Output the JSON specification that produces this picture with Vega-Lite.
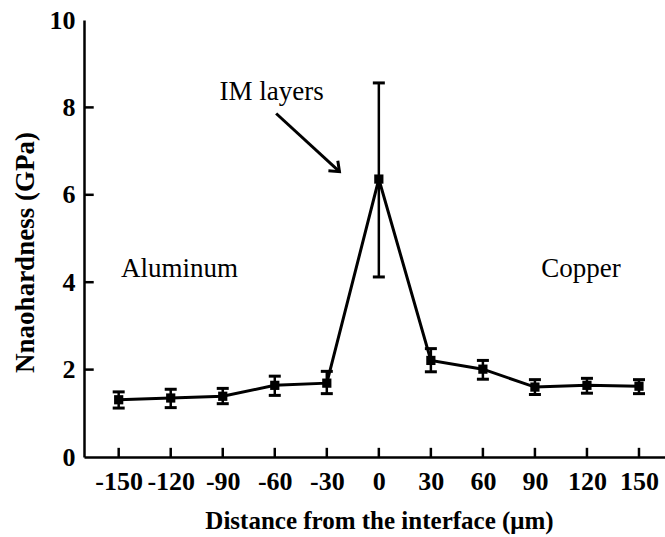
{
  "$schema": "https://vega.github.io/schema/vega-lite/v6.json",
  "autosize": {"type": "none"},
  "padding": {"left": 84, "top": 20, "right": 0, "bottom": 80},
  "width": 581,
  "height": 437,
  "background": "white",
  "config": {
    "view": {"stroke": null},
    "font": "Liberation Serif",
    "axis": {
      "grid": false,
      "ticks": false,
      "domainColor": "black",
      "domainWidth": 2.5,
      "labelFont": "Liberation Serif",
      "labelFontWeight": "bold",
      "labelFontSize": 26,
      "labelColor": "black",
      "titleFont": "Liberation Serif",
      "titleFontWeight": "bold",
      "titleColor": "black"
    }
  },
  "datasets": {
    "pts": [
      {"x": -150, "y": 1.31, "lo": 1.12, "hi": 1.49},
      {"x": -120, "y": 1.35, "lo": 1.13, "hi": 1.55},
      {"x": -90, "y": 1.39, "lo": 1.22, "hi": 1.57},
      {"x": -60, "y": 1.64, "lo": 1.41, "hi": 1.85},
      {"x": -30, "y": 1.69, "lo": 1.45, "hi": 1.96},
      {"x": 0, "y": 6.36, "lo": 4.12, "hi": 8.56},
      {"x": 30, "y": 2.21, "lo": 1.95, "hi": 2.48},
      {"x": 60, "y": 2.01, "lo": 1.78, "hi": 2.21},
      {"x": 90, "y": 1.6, "lo": 1.43, "hi": 1.77},
      {"x": 120, "y": 1.64, "lo": 1.46, "hi": 1.8},
      {"x": 150, "y": 1.62, "lo": 1.45, "hi": 1.77}
    ],
    "xticks": [
      {"x": -150, "y": 0, "y2": 0.21},
      {"x": -120, "y": 0, "y2": 0.21},
      {"x": -90, "y": 0, "y2": 0.21},
      {"x": -60, "y": 0, "y2": 0.21},
      {"x": -30, "y": 0, "y2": 0.21},
      {"x": 0, "y": 0, "y2": 0.21},
      {"x": 30, "y": 0, "y2": 0.21},
      {"x": 60, "y": 0, "y2": 0.21},
      {"x": 90, "y": 0, "y2": 0.21},
      {"x": 120, "y": 0, "y2": 0.21},
      {"x": 150, "y": 0, "y2": 0.21}
    ],
    "yticks": [
      {"x": -170, "x2": -164.4, "y": 2},
      {"x": -170, "x2": -164.4, "y": 4},
      {"x": -170, "x2": -164.4, "y": 6},
      {"x": -170, "x2": -164.4, "y": 8}
    ],
    "arrow": [
      {"x": -59.2, "y": 7.86, "x2": -22.7, "y2": 6.53}
    ],
    "labels": [
      {"x": -91.9, "y": 8.17, "text": "IM layers"},
      {"x": -148.6, "y": 4.11, "text": "Aluminum"},
      {"x": 93.7, "y": 4.12, "text": "Copper"}
    ]
  },
  "layer": [
    {
      "data": {"name": "pts"},
      "mark": {"type": "line", "color": "black", "strokeWidth": 3},
      "encoding": {
        "x": {
          "field": "x", "type": "quantitative",
          "scale": {"domain": [-170, 165], "nice": false, "zero": false},
          "axis": {
            "values": [-150, -120, -90, -60, -30, 0, 30, 60, 90, 120, 150],
            "labelExpr": "datum.value < 0 ? '-' + abs(datum.value) : '' + datum.value",
            "labelPadding": 11,
            "title": "Distance from the interface (μm)",
            "titleFontSize": 25,
            "titleX": 295,
            "titleY": 71,
            "titleAlign": "center",
            "titleBaseline": "alphabetic"
          }
        },
        "y": {
          "field": "y", "type": "quantitative",
          "scale": {"domain": [0, 10], "nice": false},
          "axis": {
            "values": [0, 2, 4, 6, 8, 10],
            "labelPadding": 9,
            "title": "Nnaohardness (GPa)",
            "titleFontSize": 27,
            "titleX": -51,
            "titleY": 232,
            "titleAngle": -90,
            "titleAlign": "center",
            "titleBaseline": "alphabetic"
          }
        }
      }
    },
    {
      "data": {"name": "xticks"},
      "mark": {"type": "rule", "color": "black", "strokeWidth": 2.5},
      "encoding": {
        "x": {"field": "x", "type": "quantitative"},
        "y": {"field": "y", "type": "quantitative"},
        "y2": {"field": "y2"}
      }
    },
    {
      "data": {"name": "yticks"},
      "mark": {"type": "rule", "color": "black", "strokeWidth": 2.5},
      "encoding": {
        "x": {"field": "x", "type": "quantitative"},
        "x2": {"field": "x2"},
        "y": {"field": "y", "type": "quantitative"}
      }
    },
    {
      "data": {"name": "pts"},
      "mark": {"type": "rule", "color": "black", "strokeWidth": 2.5},
      "encoding": {
        "x": {"field": "x", "type": "quantitative"},
        "y": {"field": "lo", "type": "quantitative"},
        "y2": {"field": "hi"}
      }
    },
    {
      "data": {"name": "pts"},
      "mark": {"type": "tick", "color": "black", "orient": "horizontal", "size": 12, "thickness": 3, "opacity": 1},
      "encoding": {
        "x": {"field": "x", "type": "quantitative"},
        "y": {"field": "lo", "type": "quantitative"}
      }
    },
    {
      "data": {"name": "pts"},
      "mark": {"type": "tick", "color": "black", "orient": "horizontal", "size": 12, "thickness": 3, "opacity": 1},
      "encoding": {
        "x": {"field": "x", "type": "quantitative"},
        "y": {"field": "hi", "type": "quantitative"}
      }
    },
    {
      "data": {"name": "pts"},
      "mark": {"type": "point", "shape": "square", "filled": true, "color": "black", "size": 85, "opacity": 1},
      "encoding": {
        "x": {"field": "x", "type": "quantitative"},
        "y": {"field": "y", "type": "quantitative"}
      }
    },
    {
      "mark": {"type": "rule", "color": "black", "strokeWidth": 2.5},
      "encoding": {"y": {"datum": 10}}
    },
    {
      "data": {"name": "arrow"},
      "mark": {"type": "rule", "color": "black", "strokeWidth": 3},
      "encoding": {
        "x": {"field": "x", "type": "quantitative"},
        "y": {"field": "y", "type": "quantitative"},
        "x2": {"field": "x2"},
        "y2": {"field": "y2"}
      }
    },
    {
      "data": {"name": "arrow"},
      "mark": {"type": "point", "shape": "M -1 -0.8 L 0 0 L -1 0.8", "filled": false, "stroke": "black", "strokeWidth": 3, "size": 300, "angle": 42.7, "opacity": 1},
      "encoding": {
        "x": {"field": "x2", "type": "quantitative"},
        "y": {"field": "y2", "type": "quantitative"}
      }
    },
    {
      "data": {"name": "labels"},
      "mark": {"type": "text", "font": "Liberation Serif", "fontSize": 27, "color": "black", "align": "left", "baseline": "alphabetic"},
      "encoding": {
        "x": {"field": "x", "type": "quantitative"},
        "y": {"field": "y", "type": "quantitative"},
        "text": {"field": "text"}
      }
    }
  ]
}
